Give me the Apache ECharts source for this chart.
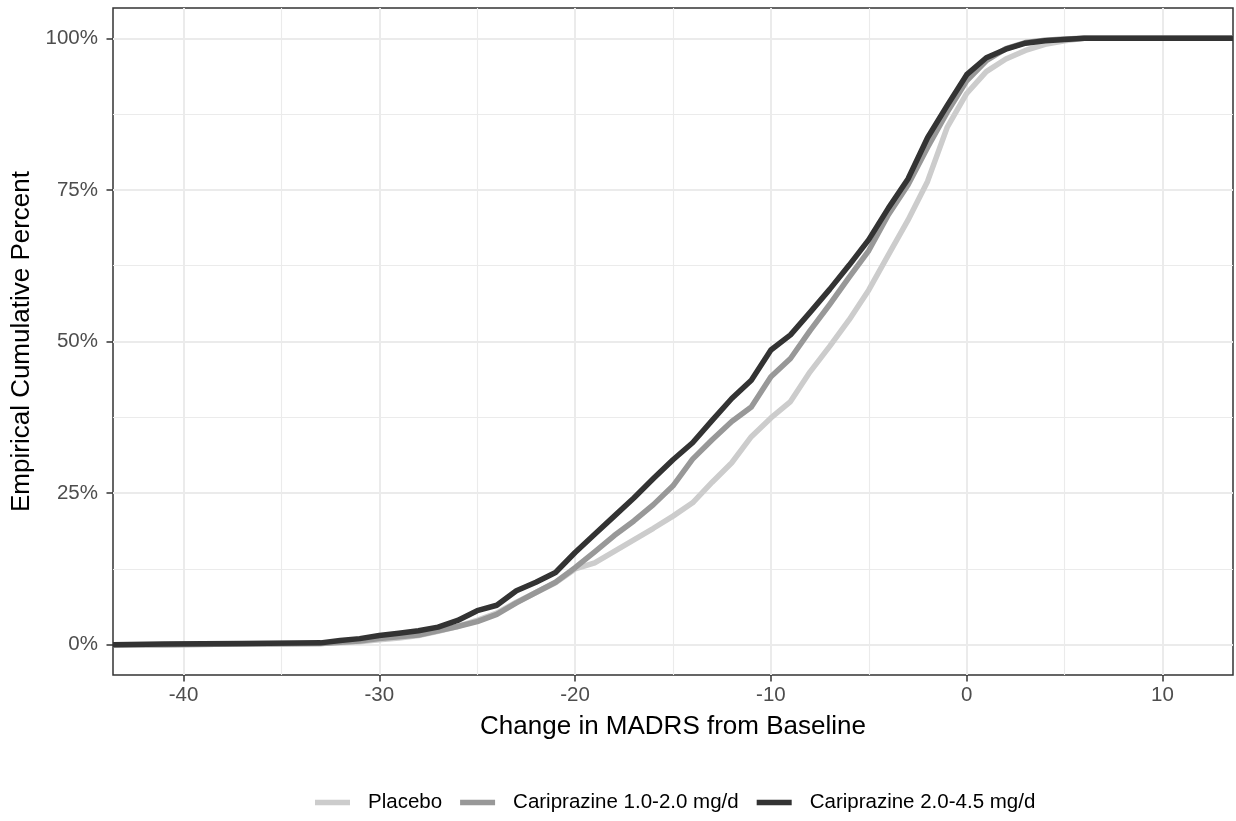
<!DOCTYPE html>
<html>
<head>
<meta charset="utf-8">
<script src="https://cdn.jsdelivr.net/npm/echarts@6/dist/echarts.min.js"></script>
<style>
  html, body { margin: 0; padding: 0; background: #fff; }
  #chart { width: 1236px; height: 821px; }
</style>
</head>
<body>
<div id="chart"></div>
<script>
// change in MADRS from baseline (first/last entries pad the ECDF out to the panel edges)
const xs = [-43.6, -41, -37, -33, -32, -31, -30, -29, -28, -27, -26, -25, -24, -23, -22, -21,
  -20, -19, -18, -17, -16, -15, -14, -13, -12, -11, -10, -9, -8, -7, -6, -5,
  -4, -3, -2, -1, 0, 1, 2, 3, 4, 5, 6, 13.6];

// empirical cumulative percent per arm
const placebo = [0, 0, 0.1, 0.2, 0.3, 0.5, 0.8, 1.1, 1.5, 2.2, 3.0, 4.0, 5.2, 7.0, 8.6, 10.2,
  12.5, 13.5, 15.4, 17.3, 19.2, 21.2, 23.4, 26.8, 30.0, 34.3, 37.4, 40.1, 45.0, 49.2, 53.6, 58.5,
  64.3, 70.0, 76.4, 85.3, 90.9, 94.5, 96.6, 98.0, 99.0, 99.6, 100, 100];
const cari12 = [0, 0, 0.1, 0.2, 0.4, 0.6, 1.0, 1.3, 1.6, 2.3, 3.0, 3.8, 5.0, 6.9, 8.6, 10.3,
  12.7, 15.3, 18.0, 20.4, 23.1, 26.2, 30.6, 33.8, 36.8, 39.2, 44.2, 47.2, 51.8, 56.1, 60.6, 65.0,
  70.9, 75.8, 82.0, 87.8, 93.0, 96.3, 98.3, 99.3, 99.7, 99.9, 100, 100];
const cari245 = [0, 0.1, 0.2, 0.3, 0.7, 1.0, 1.5, 1.9, 2.3, 2.9, 4.0, 5.6, 6.5, 8.9, 10.3, 11.9,
  15.2, 18.2, 21.2, 24.2, 27.4, 30.5, 33.3, 37.0, 40.6, 43.6, 48.6, 51.1, 54.8, 58.6, 62.6, 66.8,
  72.0, 76.8, 83.6, 88.9, 94.0, 96.8, 98.2, 99.2, 99.6, 99.8, 100, 100];

const seriesNames = ["Placebo", "Cariprazine 1.0-2.0 mg/d", "Cariprazine 2.0-4.5 mg/d"];
const seriesColors = ["#CCCCCC", "#989898", "#333333"];

const xMajor = [-40, -30, -20, -10, 0, 10];
const xMinor = [-35, -25, -15, -5, 5];
const yMajor = [0, 25, 50, 75, 100];
const yMinor = [12.5, 37.5, 62.5, 87.5];

const font = "'Liberation Sans', Arial, sans-serif";
const tickText = { color: "#4D4D4D", fontSize: 20.5, fontFamily: font };
const titleText = { color: "#000", fontSize: 26, fontFamily: font };
const majorGrid = { show: true, lineStyle: { color: "#EBEBEB", width: 2 } };
const minorGrid = { show: true, lineStyle: { color: "#EBEBEB", width: 1.1 } };
const tickLine = { color: "#333333", width: 1.5 };

const chart = echarts.init(document.getElementById("chart"), null, { renderer: "canvas" });

function pairs(vals) {
  return xs.map((x, i) => [x, vals[i]]);
}

chart.setOption({
  animation: false,
  backgroundColor: "#fff",
  grid: {
    left: 113, top: 8, right: 3, bottom: 146,
    show: true, borderColor: "#333333", borderWidth: 1.5, backgroundColor: "transparent",
  },
  xAxis: [
    {
      type: "value", min: -43.6, max: 13.6, position: "bottom",
      name: "Change in MADRS from Baseline",
      nameLocation: "middle", nameGap: 39, nameTextStyle: titleText,
      axisLine: { show: false, onZero: false },
      axisTick: { show: true, customValues: xMajor, length: 6.5, lineStyle: tickLine },
      axisLabel: { customValues: xMajor, margin: 10, ...tickText },
      splitLine: majorGrid,
    },
    {
      type: "value", min: -43.6, max: 13.6, position: "top",
      axisLine: { show: false, onZero: false },
      axisTick: { show: false, customValues: xMinor },
      axisLabel: { show: false, customValues: xMinor },
      splitLine: minorGrid,
    },
  ],
  yAxis: [
    {
      type: "value", min: -5, max: 105, position: "left",
      name: "Empirical Cumulative Percent",
      nameLocation: "middle", nameGap: 74, nameTextStyle: titleText,
      axisLine: { show: false, onZero: false },
      axisTick: { show: true, customValues: yMajor, length: 6.5, lineStyle: tickLine },
      axisLabel: { customValues: yMajor, margin: 15, formatter: (v) => v + "%", ...tickText },
      splitLine: majorGrid,
    },
    {
      type: "value", min: -5, max: 105, position: "right",
      axisLine: { show: false, onZero: false },
      axisTick: { show: false, customValues: yMinor },
      axisLabel: { show: false, customValues: yMinor },
      splitLine: minorGrid,
    },
  ],
  legend: {
    left: 315, top: 792, padding: 0,
    icon: "rect", itemWidth: 35, itemHeight: 5.5, itemGap: 18,
    textStyle: { color: "#000", fontSize: 20.5, fontFamily: font, padding: [0, 0, 0, 13] },
    data: seriesNames,
  },
  series: [placebo, cari12, cari245].map((vals, i) => ({
    name: seriesNames[i],
    type: "line",
    xAxisIndex: 0,
    yAxisIndex: 0,
    showSymbol: false,
    symbol: "none",
    data: pairs(vals),
    itemStyle: { color: seriesColors[i] },
    lineStyle: { color: seriesColors[i], width: 5.5, join: "round", cap: "butt" },
  })),
});
</script>
</body>
</html>
